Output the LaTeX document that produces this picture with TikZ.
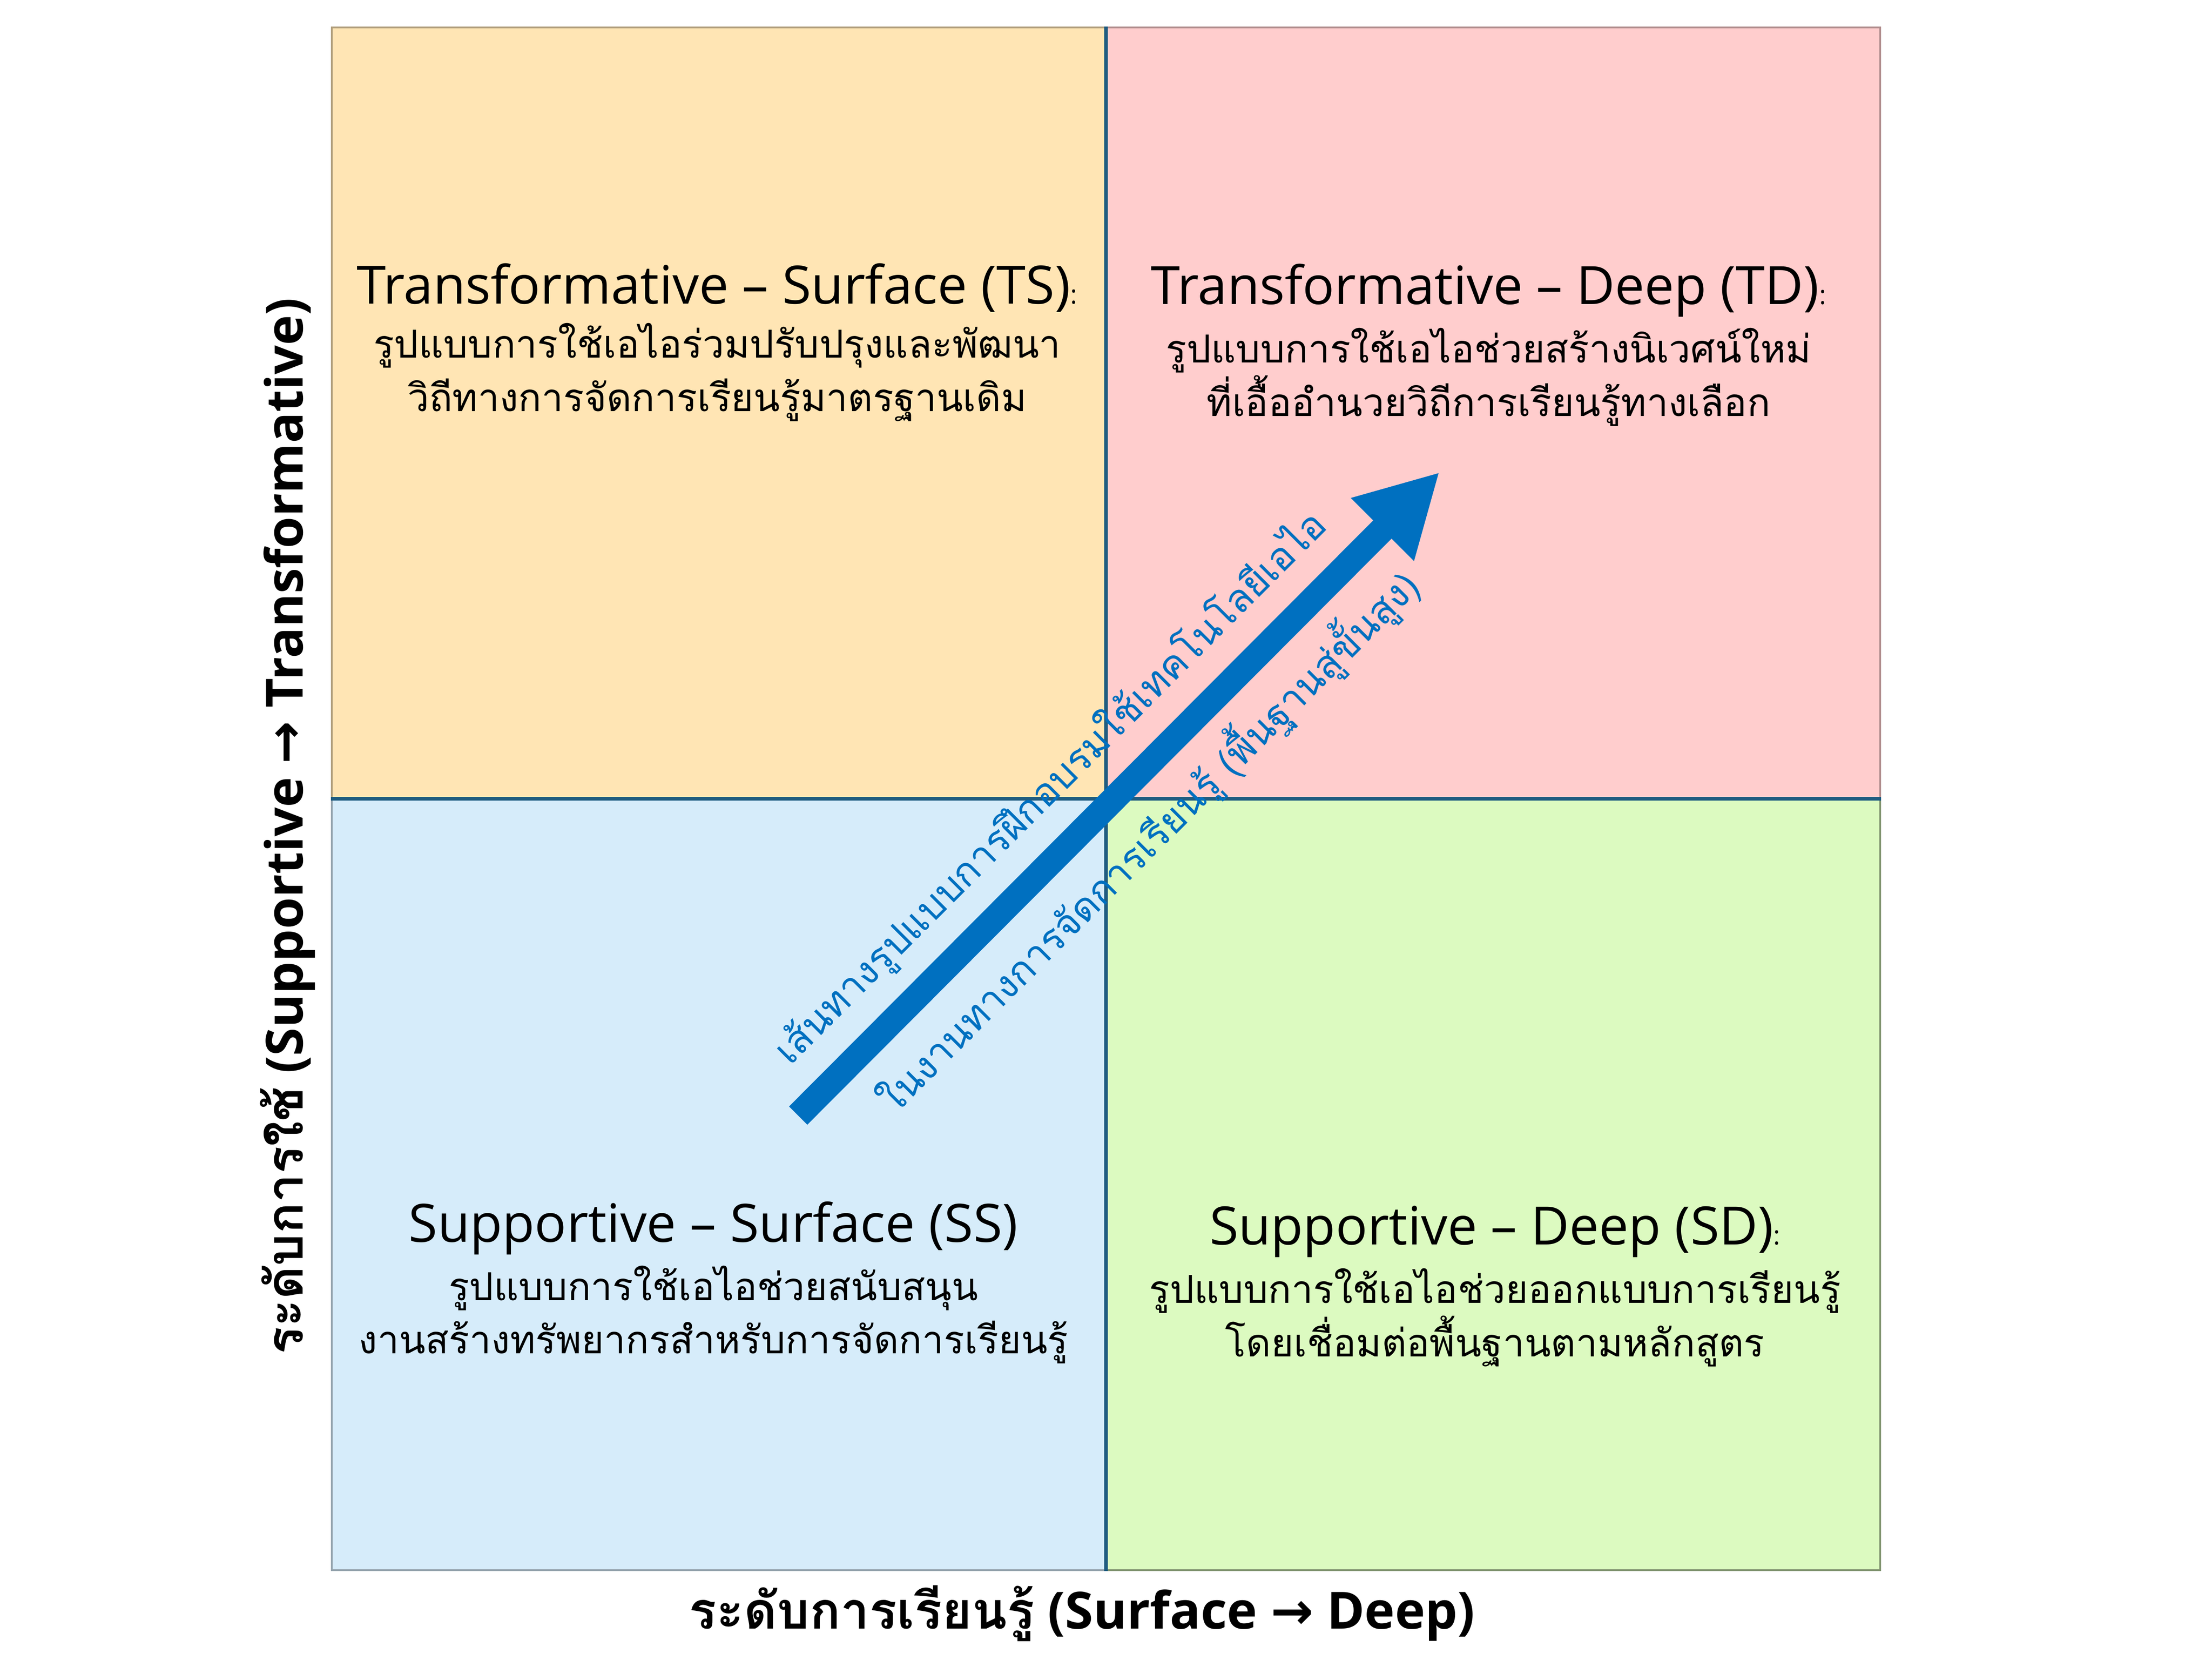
\documentclass[tikz,border=0pt]{standalone}
\usepackage{fontspec}
\setmainfont{Open Sans}
\newfontfamily\thaifont[Script=Thai]{Loma}
\newfontfamily\symfont{DejaVu Sans}
\usetikzlibrary{arrows.meta, positioning, calc}
\definecolor{tsfill}{RGB}{255,229,180}
\definecolor{tdfill}{RGB}{255,205,205}
\definecolor{ssfill}{RGB}{214,236,250}
\definecolor{sdfill}{RGB}{220,250,192}
\definecolor{divblue}{RGB}{31,92,128}
\definecolor{pathblue}{RGB}{0,112,192}

\begin{document}
\begin{tikzpicture}[
        quad/.style={rectangle, minimum width=8.39cm, minimum height=8.355cm, line width=0.6pt},
        title/.style={font=\fontsize{16.3}{19}\selectfont, inner sep=1pt},
        body/.style={font=\thaifont\fontsize{11.9}{16.5}\selectfont, align=center, inner sep=1pt},
        axis/.style={font=\bfseries\fontsize{15.8}{19}\selectfont},
        pathtext/.style={font=\thaifont\fontsize{12}{15}\selectfont, text=pathblue, rotate=45}
    ]
        \useasboundingbox (0,0) rectangle (24,18);

        % quadrants
        \node[quad, fill=tsfill, draw=tsfill!70!black, anchor=south east] (ts) at (12,9.336) {};
        \node[quad, fill=tdfill, draw=tdfill!70!black, anchor=south west] (td) at (12,9.336) {};
        \node[quad, fill=ssfill, draw=ssfill!70!black, anchor=north east] (ss) at (12,9.336) {};
        \node[quad, fill=sdfill, draw=sdfill!60!black, anchor=north west] (sd) at (12,9.336) {};

        \draw[divblue, line width=1.1pt] (ts.north east) -- (ss.south east);
        \draw[divblue, line width=1.1pt] (ts.south west) -- (td.south east);

        % quadrant texts
        \node[title] (tstitle) at (7.78,14.88) {Transformative – Surface (TS){\fontsize{8}{8}\selectfont:}};
        \node[body, below=1pt of tstitle] (tsbody) {รูปแบบการใช้เอไอร่วมปรับปรุงและพัฒนา\\วิถีทางการจัดการเรียนรู้มาตรฐานเดิม};

        \node[title] (tdtitle) at (16.15,14.85) {Transformative – Deep (TD){\fontsize{8}{8}\selectfont:}};
        \node[body, below=1pt of tdtitle] (tdbody) {รูปแบบการใช้เอไอช่วยสร้างนิเวศน์ใหม่\\ที่เอื้ออำนวยวิถีการเรียนรู้ทางเลือก};

        \node[title] (sstitle) at (7.74,4.68) {Supportive – Surface (SS)};
        \node[body, below=1pt of sstitle] (ssbody) {รูปแบบการใช้เอไอช่วยสนับสนุน\\งานสร้างทรัพยากรสำหรับการจัดการเรียนรู้};

        \node[title] (sdtitle) at (16.22,4.64) {Supportive – Deep (SD){\fontsize{8}{8}\selectfont:}};
        \node[body, below=1pt of sdtitle] (sdbody) {รูปแบบการใช้เอไอช่วยออกแบบการเรียนรู้\\โดยเชื่อมต่อพื้นฐานตามหลักสูตร};

        % pathway arrow
        \coordinate (tail) at (8.66,5.90);
        \coordinate (tip) at (15.62,12.88);
        \draw[pathblue, line width=0.28cm, -{Triangle[length=0.88cm, width=0.9cm]}] (tail) -- (tip);
        \node[pathtext] (pathup) at (11.40,9.45) {เส้นทางรูปแบบการฝึกอบรมใช้เทคโนโลยีเอไอ};
        \node[pathtext] (pathdown) at (12.45,8.88) {ในงานทางการจัดการเรียนรู้ (พื้นฐานสู่ขั้นสูง)};

        % axis labels
        \node[axis] (xaxis) at (11.74,0.50) {{\thaifont ระดับการเรียนรู้} (Surface {\symfont →} Deep)};
        \node[axis, rotate=90] (yaxis) at (3.12,9.04) {{\thaifont ระดับการใช้} (Supportive {\symfont →} Transformative)};
    \end{tikzpicture}
\end{document}
